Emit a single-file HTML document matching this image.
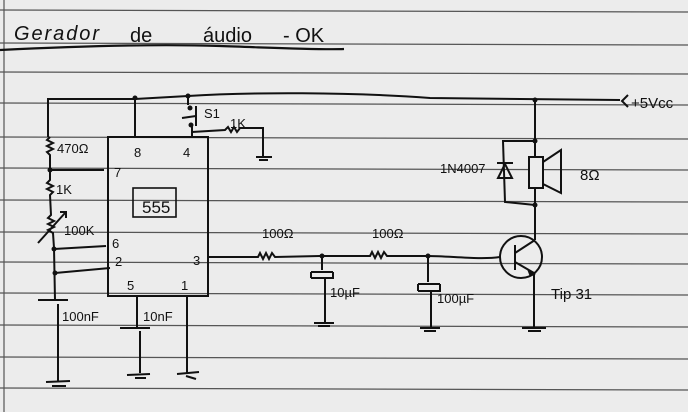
<!DOCTYPE html>
<html><head><style>
html,body{margin:0;padding:0;background:#eee;}
svg{display:block}
text{font-family:"Liberation Sans",sans-serif;fill:#111}
</style></head><body>
<svg width="688" height="412" viewBox="0 0 688 412" xmlns="http://www.w3.org/2000/svg">
<rect width="688" height="412" fill="#ececec"/>
<!-- paper lines -->
<g stroke="#555" stroke-width="1.2">
<line x1="0" y1="10" x2="688" y2="12"/>
<line x1="0" y1="43" x2="688" y2="45"/>
<line x1="0" y1="72" x2="688" y2="74"/>
<line x1="0" y1="103" x2="688" y2="105"/>
<line x1="0" y1="137" x2="688" y2="139"/>
<line x1="0" y1="168" x2="688" y2="170"/>
<line x1="0" y1="200" x2="688" y2="202"/>
<line x1="0" y1="232" x2="688" y2="234"/>
<line x1="0" y1="262" x2="688" y2="264"/>
<line x1="0" y1="293" x2="688" y2="295"/>
<line x1="0" y1="325" x2="688" y2="327"/>
<line x1="0" y1="357" x2="688" y2="359"/>
<line x1="0" y1="388" x2="688" y2="390"/>
<line x1="4" y1="0" x2="4" y2="412"/>
</g>
<!-- title -->
<text x="14" y="40" font-size="20" font-style="italic" textLength="85">Gerador</text>
<text x="130" y="42" font-size="20">de</text>
<text x="203" y="42" font-size="20">áudio</text>
<text x="283" y="42" font-size="20">- OK</text>
<path d="M0,50 C80,46 160,44 220,46 S320,50 344,49" stroke="#111" stroke-width="2.2" fill="none"/>
<g stroke="#111" stroke-width="2" fill="none">
<!-- top rail -->
<path d="M48,137 L48,99 L135,99 L188,96 C250,92 350,92 430,98 L620,100"/>
<path d="M628,95 L622,101 L628,107"/>
<!-- 555 box -->
<rect x="108" y="137" width="100" height="159"/>
<rect x="133" y="188" width="43" height="29" stroke-width="1.6"/>
<line x1="135" y1="99" x2="135" y2="137"/>
<!-- S1 -->
<line x1="188" y1="96" x2="188" y2="105"/>
<line x1="196" y1="106" x2="196" y2="126"/>
<line x1="182" y1="118" x2="196" y2="116"/>
<path d="M192,126 L192,137"/>
<path d="M192,132 L225,130 L228,127 L231,132 L234,127 L237,132 L240,128 L263,128 L263,157"/>
<line x1="256" y1="157" x2="272" y2="157"/>
<line x1="259" y1="160" x2="268" y2="160"/>
<!-- left chain -->
<path d="M50,137 L47,140 L53,143 L47,146 L53,149 L47,152 L50,155 L50,180 L47,183 L53,186 L47,189 L53,192 L50,195 L51,215 L48,218 L54,221 L48,224 L54,227 L48,230 L53,233 L54,248 L55,300"/>
<path d="M38,243 L65,213 M60,212 L66,212 L66,218"/>
<line x1="50" y1="170" x2="104" y2="170"/>
<path d="M54,249 L106,246"/>
<path d="M55,273 L110,268"/>
<line x1="38" y1="300" x2="68" y2="300"/>
<line x1="58" y1="304" x2="58" y2="382"/>
<line x1="46" y1="382" x2="70" y2="381"/>
<line x1="52" y1="386" x2="66" y2="386"/>
<!-- pin5 -->
<line x1="137" y1="296" x2="137" y2="327"/>
<line x1="120" y1="328" x2="150" y2="328"/>
<line x1="140" y1="331" x2="140" y2="373"/>
<line x1="127" y1="375" x2="150" y2="374"/>
<line x1="135" y1="378" x2="146" y2="378"/>
<!-- pin1 -->
<line x1="187" y1="296" x2="187" y2="374"/>
<line x1="177" y1="374" x2="199" y2="372"/>
<path d="M186,376 L196,379"/>
<!-- pin3 line -->
<path d="M208,257 L258,257 L260,253 L263,259 L266,253 L269,259 L272,253 L275,257 L320,256 L370,256 L372,252 L375,258 L378,252 L381,258 L384,252 L387,256 L428,256 C450,256 480,260 500,257"/>
<!-- cap 10uF -->
<line x1="322" y1="256" x2="322" y2="270"/>
<path d="M311,272 L333,272 M311,278 L333,278 L333,272 M311,278 L311,272"/>
<line x1="325" y1="278" x2="325" y2="322"/>
<line x1="314" y1="323" x2="334" y2="323"/>
<line x1="318" y1="326" x2="330" y2="326"/>
<!-- cap 100uF -->
<line x1="428" y1="256" x2="428" y2="282"/>
<path d="M418,284 L440,284 M418,291 L440,291 L440,284 M418,291 L418,284"/>
<line x1="431" y1="291" x2="431" y2="327"/>
<line x1="420" y1="328" x2="440" y2="328"/>
<line x1="424" y1="331" x2="436" y2="331"/>
<!-- transistor -->
<circle cx="521" cy="257" r="21"/>
<line x1="515" y1="245" x2="515" y2="270"/>
<line x1="515" y1="253" x2="535" y2="240"/>
<line x1="515" y1="262" x2="534" y2="273"/>
<line x1="535" y1="100" x2="535" y2="240"/>
<line x1="534" y1="273" x2="534" y2="327"/>
<line x1="522" y1="328" x2="546" y2="328"/>
<line x1="528" y1="331" x2="541" y2="331"/>
<!-- diode bracket -->
<path d="M535,141 L503,141 L505,202 L535,205"/>
<!-- speaker -->
<rect x="529" y="157" width="14" height="31" fill="#ececec"/>
<path d="M543,162 L561,150 L561,193 L543,184"/>
</g>
<polygon points="527,269 536,274 530,277" fill="#111"/>
<!-- diode -->
<polygon points="498,178 512,178 505,164" fill="none" stroke="#111" stroke-width="2"/>
<line x1="497" y1="163" x2="513" y2="163" stroke="#111" stroke-width="2"/>
<!-- dots -->
<g fill="#111">
<circle cx="135" cy="98" r="2.5"/><circle cx="188" cy="96" r="2.5"/>
<circle cx="190" cy="108" r="2.5"/><circle cx="191" cy="125" r="2.5"/>
<circle cx="50" cy="170" r="2.5"/><circle cx="54" cy="249" r="2.5"/><circle cx="55" cy="273" r="2.5"/>
<circle cx="322" cy="256" r="2.5"/><circle cx="428" cy="256" r="2.5"/>
<circle cx="535" cy="100" r="2.5"/><circle cx="535" cy="141" r="2.5"/><circle cx="535" cy="205" r="2.5"/>
</g>
<!-- labels -->
<g font-size="13">
<text x="57" y="153">470Ω</text>
<text x="56" y="194">1K</text>
<text x="64" y="235">100K</text>
<text x="134" y="157">8</text>
<text x="183" y="157">4</text>
<text x="114" y="177">7</text>
<text x="112" y="248">6</text>
<text x="115" y="266">2</text>
<text x="193" y="265">3</text>
<text x="127" y="290">5</text>
<text x="181" y="290">1</text>
<text x="204" y="118">S1</text>
<text x="230" y="128">1K</text>
<text x="62" y="321">100nF</text>
<text x="143" y="321">10nF</text>
<text x="262" y="238">100Ω</text>
<text x="372" y="238">100Ω</text>
<text x="330" y="297">10µF</text>
<text x="437" y="303">100µF</text>
<text x="440" y="173">1N4007</text>
<text x="580" y="180" font-size="15">8Ω</text>
<text x="551" y="299" font-size="15">Tip 31</text>
<text x="631" y="108" font-size="15">+5Vcc</text>
</g>
<text x="142" y="213" font-size="17">555</text>
</svg>
</body></html>
